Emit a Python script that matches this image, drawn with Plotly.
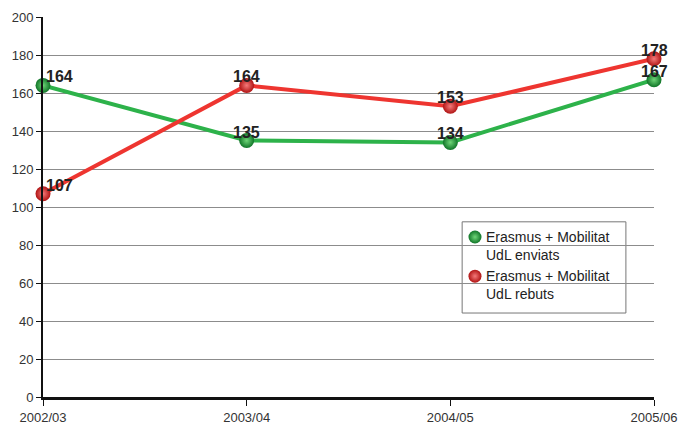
import plotly.graph_objects as go

years = ["2002/03", "2003/04", "2004/05", "2005/06"]
enviats = [164, 135, 134, 167]
rebuts = [107, 164, 153, 178]
names = ["Erasmus + Mobilitat<br>UdL enviats", "Erasmus + Mobilitat<br>UdL rebuts"]

GREEN = "#2db24a"
RED = "#ee3530"
FONT = "Liberation Sans, Arial, sans-serif"

fig = go.Figure()

# (values, line colour, highlight, shadow)
series = [
    (enviats, GREEN, "#6fd678", "#107528"),
    (rebuts, RED, "#f47a7a", "#b01414"),
]

for vals, color, light, dark in series:
    fig.add_trace(go.Scatter(
        x=years, y=vals, mode="lines+markers",
        line=dict(color=color, width=4),
        marker=dict(size=15, color=dark,
                    gradient=dict(type="radial", color=light),
                    line=dict(width=0)),
        showlegend=False, cliponaxis=False, hoverinfo="x+y",
    ))
    for i, (yr, v) in enumerate(zip(years, vals)):
        fig.add_annotation(
            x=yr, y=v, text=f"<b>{v}</b>", showarrow=False,
            xanchor="left" if i == 0 else "center",
            xshift=1 if i == 0 else 0,
            yanchor="bottom", yshift=-2,
            font=dict(family=FONT, size=16, color="#222222"),
        )

# hand-made legend box: symbol sits close to the text, as in the original
fig.add_shape(type="rect", xref="paper", yref="paper",
              x0=0.686, x1=0.954, y0=0.221, y1=0.461,
              line=dict(color="#777777", width=1), fillcolor="white", layer="between")
leg_y = [0.421, 0.318]
fig.add_trace(go.Scatter(
    x=[0.707, 0.707], y=leg_y, xaxis="x2", yaxis="y2", mode="markers",
    marker=dict(size=13, color=[s[3] for s in series],
                gradient=dict(type="radial", color=[s[2] for s in series]),
                line=dict(width=0)),
    showlegend=False, hoverinfo="skip",
))
for yy, nm in zip(leg_y, names):
    fig.add_annotation(
        xref="paper", yref="paper", x=0.722, y=yy + 0.027, text=nm,
        showarrow=False, xanchor="left", yanchor="top", align="left",
        font=dict(family=FONT, size=14, color="#222222"),
    )

fig.update_layout(
    width=682, height=424,
    margin=dict(l=43, r=28, t=17, b=27),
    paper_bgcolor="white", plot_bgcolor="white",
    font=dict(family=FONT, color="#333333", size=13),
    showlegend=False,
    xaxis=dict(
        type="category", range=[0, 3], automargin=False,
        showgrid=False, showline=True, linecolor="#111111", linewidth=3,
        ticks="outside", ticklen=6, tickcolor="#111111",
        tickfont=dict(family=FONT, size=13, color="#333333"),
    ),
    yaxis=dict(
        range=[0, 200], dtick=20, automargin=False,
        showgrid=True, gridcolor="#8c8c8c", gridwidth=1,
        showline=True, linecolor="#111111", linewidth=2,
        ticks="outside", ticklen=5, tickcolor="#111111",
        tickfont=dict(family=FONT, size=13, color="#333333"), zeroline=False,
    ),
    xaxis2=dict(overlaying="x", range=[0, 1], visible=False, fixedrange=True),
    yaxis2=dict(overlaying="y", range=[0, 1], visible=False, fixedrange=True),
)

fig.write_html("out.html", config={"displayModeBar": False},
               post_script="document.body.style.margin='0';")
